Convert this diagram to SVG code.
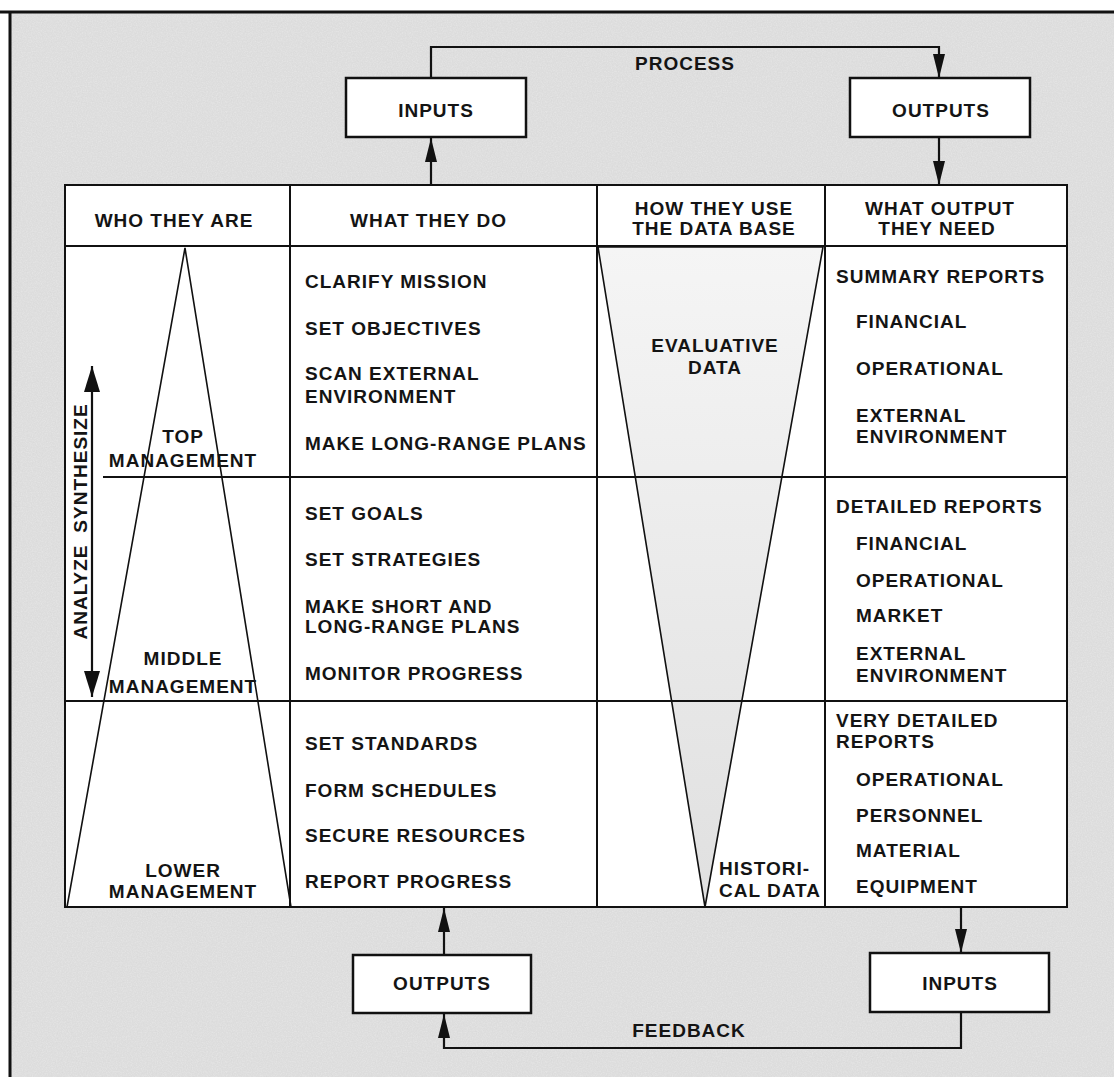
<svg xmlns="http://www.w3.org/2000/svg" width="1114" height="1077" viewBox="0 0 1114 1077">
  <defs>
    <style>
      text { font-family: "Liberation Sans", Arial, sans-serif; font-weight: bold; font-size: 19px; letter-spacing: 1px; fill: #141414; }
      .c { text-anchor: middle; }
      .ln { stroke: #111; stroke-width: 2; fill: none; }
      .cell { stroke: #111; stroke-width: 2; fill: #ffffff; }
      .thin { stroke: #111; stroke-width: 1.6; fill: none; }
      .vshape { stroke: #111; stroke-width: 1.6; fill: url(#vfill); }
      .box { fill: #fff; stroke: #111; stroke-width: 2.5; }
      .conn { stroke: #111; stroke-width: 2.2; fill: none; }
    </style>
    <marker id="arr" viewBox="0 0 24 12" refX="24" refY="6" markerWidth="24" markerHeight="12" markerUnits="userSpaceOnUse" orient="auto">
      <path d="M0,0 L24,6 L0,12 Z" fill="#111"/>
    </marker>
    <marker id="arrw" viewBox="0 0 26 16" refX="26" refY="8" markerWidth="26" markerHeight="16" markerUnits="userSpaceOnUse" orient="auto-start-reverse">
      <path d="M0,0 L26,8 L0,16 Z" fill="#111"/>
    </marker>
    <linearGradient id="vfill" x1="0" y1="0" x2="0" y2="1">
      <stop offset="0" stop-color="#f5f5f5"/>
      <stop offset="1" stop-color="#e0e0e0"/>
    </linearGradient>
    <filter id="noise" x="0" y="0" width="100%" height="100%">
      <feTurbulence type="fractalNoise" baseFrequency="0.8" numOctaves="2" seed="3"/>
      <feColorMatrix type="matrix" values="0 0 0 0 0  0 0 0 0 0  0 0 0 0 0  0 0 0 0.35 0"/>
    </filter>
  </defs>

  <!-- page background and frame -->
  <rect x="0" y="0" width="1114" height="1077" fill="#ffffff"/>
  <rect x="10" y="12" width="1104" height="1065" fill="#e6e6e6"/>
  <rect x="10" y="12" width="1104" height="1065" filter="url(#noise)" opacity="0.18"/>
  <path d="M0,12 H1114" stroke="#111" stroke-width="3"/>
  <path d="M10,12 V1077" stroke="#111" stroke-width="3"/>

  <!-- table -->
  <g id="table">
    <rect x="65" y="185" width="1002" height="722" class="cell"/>
    <polygon id="data-v" points="598,247 823,247 705,907" class="vshape"/>
    <path class="ln" d="M65,246 H1067 M103,477 H1067 M65,701 H1067 M290,185 V907 M597,185 V907 M825,185 V907"/>
    <polygon id="mgmt-triangle" points="185,248 67,907 291,907" class="thin"/>
    <path class="conn" d="M92,366 V697" marker-start="url(#arrw)" marker-end="url(#arrw)"/>
  </g>

  <g id="header">
    <text x="174" y="227" class="c">WHO THEY ARE</text>
    <text x="350" y="227">WHAT THEY DO</text>
    <text x="714" y="215" class="c">HOW THEY USE</text>
    <text x="714" y="235" class="c">THE DATA BASE</text>
    <text x="940" y="215" class="c">WHAT OUTPUT</text>
    <text x="937" y="235" class="c">THEY NEED</text>
  </g>

  <g id="who-they-are">
    <text x="183" y="443" class="c">TOP</text>
    <text x="183" y="467" class="c">MANAGEMENT</text>
    <text x="183" y="665" class="c">MIDDLE</text>
    <text x="183" y="693" class="c">MANAGEMENT</text>
    <text x="183" y="877" class="c">LOWER</text>
    <text x="183" y="898" class="c">MANAGEMENT</text>
    <text transform="translate(87,468) rotate(-90)" class="c">SYNTHESIZE</text>
    <text transform="translate(87,592) rotate(-90)" class="c">ANALYZE</text>
  </g>

  <g id="what-they-do">
    <text x="305" y="288">CLARIFY MISSION</text>
    <text x="305" y="335">SET OBJECTIVES</text>
    <text x="305" y="380">SCAN EXTERNAL</text>
    <text x="305" y="403">ENVIRONMENT</text>
    <text x="305" y="450">MAKE LONG-RANGE PLANS</text>
    <text x="305" y="520">SET GOALS</text>
    <text x="305" y="566">SET STRATEGIES</text>
    <text x="305" y="613">MAKE SHORT AND</text>
    <text x="305" y="633">LONG-RANGE PLANS</text>
    <text x="305" y="680">MONITOR PROGRESS</text>
    <text x="305" y="750">SET STANDARDS</text>
    <text x="305" y="797">FORM SCHEDULES</text>
    <text x="305" y="842">SECURE RESOURCES</text>
    <text x="305" y="888">REPORT PROGRESS</text>
  </g>

  <g id="data-base-use">
    <text x="715" y="352" class="c">EVALUATIVE</text>
    <text x="715" y="374" class="c">DATA</text>
    <text x="719" y="875">HISTORI-</text>
    <text x="719" y="897">CAL DATA</text>
  </g>

  <g id="output-needed">
    <text x="836" y="283">SUMMARY REPORTS</text>
    <text x="856" y="328">FINANCIAL</text>
    <text x="856" y="375">OPERATIONAL</text>
    <text x="856" y="422">EXTERNAL</text>
    <text x="856" y="443">ENVIRONMENT</text>
    <text x="836" y="513">DETAILED REPORTS</text>
    <text x="856" y="550">FINANCIAL</text>
    <text x="856" y="587">OPERATIONAL</text>
    <text x="856" y="622">MARKET</text>
    <text x="856" y="660">EXTERNAL</text>
    <text x="856" y="682">ENVIRONMENT</text>
    <text x="836" y="727">VERY DETAILED</text>
    <text x="836" y="748">REPORTS</text>
    <text x="856" y="786">OPERATIONAL</text>
    <text x="856" y="822">PERSONNEL</text>
    <text x="856" y="857">MATERIAL</text>
    <text x="856" y="893">EQUIPMENT</text>
  </g>

  <!-- connectors -->
  <g id="connectors">
    <path class="conn" d="M431,78 V47 H939 V78" marker-end="url(#arr)"/>
    <path class="conn" d="M431,185 V138" marker-end="url(#arr)"/>
    <path class="conn" d="M939,137 V185" marker-end="url(#arr)"/>
    <path class="conn" d="M444,955 V908" marker-end="url(#arr)"/>
    <path class="conn" d="M961,907 V953" marker-end="url(#arr)"/>
    <path class="conn" d="M961,1012 V1048 H444 V1014" marker-end="url(#arr)"/>
    <text x="685" y="70" class="c">PROCESS</text>
    <text x="689" y="1037" class="c">FEEDBACK</text>
  </g>

  <g id="inputs-top">
    <rect x="346" y="78" width="180" height="59" class="box"/>
    <text x="436" y="117" class="c">INPUTS</text>
  </g>
  <g id="outputs-top">
    <rect x="850" y="78" width="180" height="59" class="box"/>
    <text x="941" y="117" class="c">OUTPUTS</text>
  </g>
  <g id="outputs-bottom">
    <rect x="353" y="955" width="178" height="58" class="box"/>
    <text x="442" y="990" class="c">OUTPUTS</text>
  </g>
  <g id="inputs-bottom">
    <rect x="870" y="953" width="179" height="59" class="box"/>
    <text x="960" y="990" class="c">INPUTS</text>
  </g>
</svg>
